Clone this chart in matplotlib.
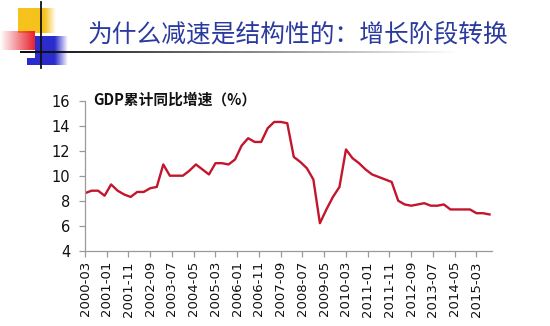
import numpy as np
import matplotlib
matplotlib.use("Agg")
import matplotlib.pyplot as plt

plt.rcParams['font.family'] = ['DejaVu Sans', 'Noto Sans CJK SC']

# Quarterly cumulative GDP growth, 2000-03 .. 2015-09
quarters = [f"{y}-{m:02d}" for y in range(2000, 2016) for m in (3, 6, 9, 12)][:63]
gdp_growth = [
    8.6, 8.8, 8.8, 8.4,
    9.3, 8.8, 8.5, 8.3,
    8.7, 8.7, 9.0, 9.1,
    10.9, 10.0, 10.0, 10.0,
    10.4, 10.9, 10.5, 10.1,
    11.0, 11.0, 10.9, 11.3,
    12.4, 13.0, 12.7, 12.7,
    13.8, 14.3, 14.3, 14.2,
    11.5, 11.1, 10.6, 9.7,
    6.2, 7.3, 8.3, 9.1,
    12.1, 11.4, 11.0, 10.5,
    10.1, 9.9, 9.7, 9.5,
    8.0, 7.7, 7.6, 7.7,
    7.8, 7.6, 7.6, 7.7,
    7.3, 7.3, 7.3, 7.3,
    7.0, 7.0, 6.9,
]
tick_labels = ["2000-03", "2001-01", "2001-11", "2002-09", "2003-07", "2004-05",
               "2005-03", "2006-01", "2006-11", "2007-09", "2008-07", "2009-05",
               "2010-03", "2011-01", "2011-11", "2012-09", "2013-07", "2014-05",
               "2015-03"]
y_ticks = [4, 6, 8, 10, 12, 14, 16]

title = "为什么减速是结构性的：增长阶段转换"
chart_title = "GDP累计同比增速（%）"


def month_index(s):
    y, m = s.split("-")
    return (int(y) - 2000) * 12 + int(m) - 3


W, H = 550, 326
fig = plt.figure(figsize=(W / 100, H / 100), dpi=100)

# slide decoration, drawn in pixel coordinates
deco = fig.add_axes([0, 0, 1, 1], zorder=0)
deco.set_xlim(0, W)
deco.set_ylim(H, 0)
deco.axis("off")


def grad_block(ax, x0, x1, y0, y1, rgb, a_left, a_right, solid_until=None):
    n = 200
    xs = np.linspace(0, 1, n)
    if solid_until is None:
        alpha = a_left + (a_right - a_left) * xs
    else:
        alpha = np.where(xs < solid_until, a_left,
                         a_left + (a_right - a_left) * (xs - solid_until) / (1 - solid_until))
    img = np.zeros((1, n, 4))
    img[..., :3] = matplotlib.colors.to_rgb(rgb)
    img[..., 3] = alpha
    ax.imshow(img, extent=(x0, x1, y1, y0), aspect="auto", interpolation="bilinear")


grad_block(deco, 18, 56, 8, 33, "#f6c21c", 1.0, 0.0, solid_until=0.7)
grad_block(deco, 35, 68, 36, 65, "#2a2ccc", 1.0, 0.0, solid_until=0.6)
grad_block(deco, 27, 36, 58, 65, "#2a2ccc", 1.0, 1.0)
grad_block(deco, 0, 35, 31, 50, "#e8202c", 0.0, 1.0, solid_until=0.0)
grad_block(deco, 20, 460, 51.5, 53.5, "#111111", 1.0, 0.0, solid_until=0.05)
deco.plot([41, 41], [2, 68], color="#111111", lw=1.3)

fig.text(88 / W, 1 - 34 / H, title, fontsize=17.8, color="#2a3a9e",
         family=["Noto Sans CJK SC"], va="center", ha="left")

# line chart
ax = fig.add_axes([85 / W, 1 - 250.7 / H, (491.7 - 85) / W, (250.7 - 100.7) / H], zorder=2)
ax.patch.set_alpha(0)
x = [month_index(q) for q in quarters]
ax.plot(x, gdp_growth, color="#c3162c", lw=1.7, solid_joinstyle="round")

ax.set_xlim(0, 187)
ax.set_ylim(4, 16)
ax.set_yticks(y_ticks)
ax.set_yticklabels([str(v) for v in y_ticks], fontsize=10.5)
ax.set_xticks([month_index(t) for t in tick_labels])
ax.set_xticklabels(tick_labels, rotation=90, fontsize=9.5)

for side in ("top", "right"):
    ax.spines[side].set_visible(False)
for side in ("left", "bottom"):
    ax.spines[side].set_color("#9a9a9a")
    ax.spines[side].set_linewidth(0.9)
ax.tick_params(axis="both", colors="#9a9a9a", labelcolor="#111111", length=4.5, width=0.9)
ax.tick_params(axis="y", pad=6)
ax.tick_params(axis="x", pad=3)

fig.text(93 / W, 1 - 100 / H, chart_title, fontsize=10.6, fontweight="bold",
         family=["Noto Sans CJK SC"], va="center", ha="left", color="#111111")

fig.savefig("out.png", dpi=100, facecolor="white")
